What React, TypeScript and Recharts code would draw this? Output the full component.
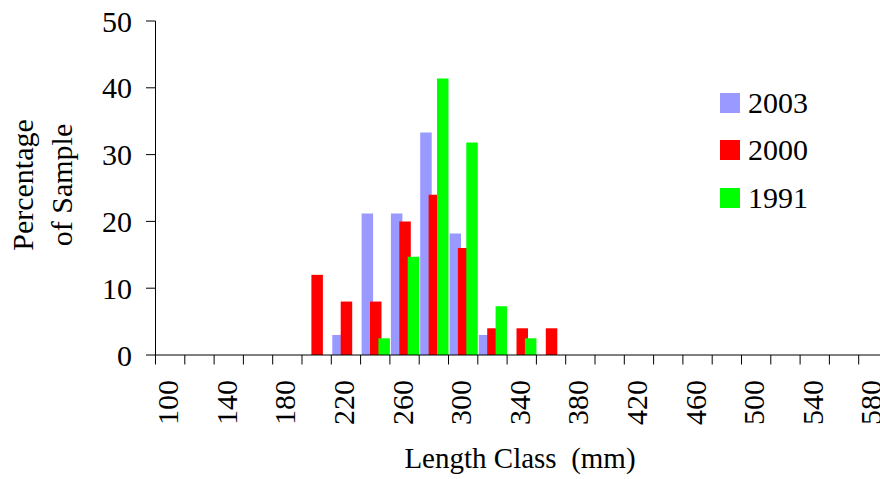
import { BarChart, Bar, XAxis, YAxis, Legend } from "recharts";

// Length classes (mm), one band per 20 mm
const lengthClass = [
  100, 120, 140, 160, 180, 200, 220, 240, 260, 280, 300, 320, 340,
  360, 380, 400, 420, 440, 460, 480, 500, 520, 540, 560, 580,
];

// Percentage of sample per length class
const pct2003 = [0, 0, 0, 0, 0, 0, 3.0, 21.2, 21.2, 33.3, 18.2, 3.0, 0, 0, 0, 0, 0, 0, 0, 0, 0, 0, 0, 0, 0];
const pct2000 = [0, 0, 0, 0, 0, 12, 8, 8, 20, 24, 16, 4, 4, 4, 0, 0, 0, 0, 0, 0, 0, 0, 0, 0, 0];
const pct1991 = [0, 0, 0, 0, 0, 0, 0, 2.5, 14.7, 41.4, 31.8, 7.3, 2.5, 0, 0, 0, 0, 0, 0, 0, 0, 0, 0, 0, 0];

const yTicks = [0, 10, 20, 30, 40, 50];

const series = [
  { key: "y2003", name: "2003", color: "#9999FF" },
  { key: "y2000", name: "2000", color: "#FF0000" },
  { key: "y1991", name: "1991", color: "#00FF00" },
];

const data = lengthClass.map((len, i) => ({
  len,
  y2003: pct2003[i],
  y2000: pct2000[i],
  y1991: pct1991[i],
}));

const FONT = '"Liberation Serif", "Times New Roman", serif';
const CHART_W = 900;
const CHART_H = 479;
const PLOT_LEFT = 155.5;
const PLOT_RIGHT = 888;
const BAND = (PLOT_RIGHT - PLOT_LEFT) / lengthClass.length;

// tick marks sit on the band edges, labels on every other class
function LengthTick(props: any) {
  const { x, y, payload, index } = props;
  const edge = x - BAND / 2;
  return (
    <g>
      <line x1={edge} x2={edge} y1={y} y2={y + 9.5} stroke="#000" />
      {index % 2 === 0 && (
        <text
          transform={`translate(${x + 8},${y + 25}) rotate(-90)`}
          textAnchor="end"
          fontFamily={FONT}
          fontSize={30}
          fill="#000"
        >
          {payload.value}
        </text>
      )}
    </g>
  );
}

function YearLegend() {
  return (
    <div style={{ fontFamily: FONT, fontSize: 30, color: "#000" }}>
      {series.map((s) => (
        <div key={s.key} style={{ height: 47.5, display: "flex", alignItems: "center" }}>
          <span style={{ width: 20, height: 20, background: s.color, display: "inline-block" }} />
          <span style={{ marginLeft: 8 }}>{s.name}</span>
        </div>
      ))}
    </div>
  );
}

export default function App() {
  return (
    <div
      style={{
        position: "absolute",
        left: 0,
        top: 0,
        width: 880,
        height: 479,
        overflow: "hidden",
        background: "#fff",
      }}
    >
      <BarChart
        width={CHART_W}
        height={CHART_H}
        data={data}
        margin={{ top: 21, right: CHART_W - PLOT_RIGHT, bottom: 0, left: 0 }}
        barSize={11.5}
        barGap={-3.1}
      >
        <XAxis
          dataKey="len"
          interval={0}
          tickLine={false}
          tickSize={0}
          tickMargin={0}
          height={124}
          axisLine={{ stroke: "#000" }}
          tick={<LengthTick />}
        />
        <YAxis
          domain={[0, 50]}
          ticks={yTicks}
          interval={0}
          width={PLOT_LEFT}
          tickSize={9.5}
          tickMargin={14}
          axisLine={{ stroke: "#000" }}
          tickLine={{ stroke: "#000" }}
          tick={{ fill: "#000", fontSize: 30, fontFamily: FONT }}
        />
        <Legend
          layout="vertical"
          align="center"
          verticalAlign="middle"
          content={<YearLegend />}
          wrapperStyle={{ left: 720, top: 79, width: 140 }}
        />
        {series.map((s) => (
          <Bar key={s.key} dataKey={s.key} name={s.name} fill={s.color} isAnimationActive={false} />
        ))}
      </BarChart>
      <svg
        width={880}
        height={479}
        style={{ position: "absolute", left: 0, top: 0, pointerEvents: "none" }}
      >
        <g fontFamily={FONT} fill="#000">
          <text x={520} y={468} fontSize={29} textAnchor="middle" style={{ whiteSpace: "pre" }}>
            {"Length Class  (mm)"}
          </text>
          <text transform="translate(33,185) rotate(-90)" fontSize={30} textAnchor="middle">
            Percentage
          </text>
          <text transform="translate(72,185) rotate(-90)" fontSize={30} textAnchor="middle">
            of Sample
          </text>
        </g>
      </svg>
    </div>
  );
}
